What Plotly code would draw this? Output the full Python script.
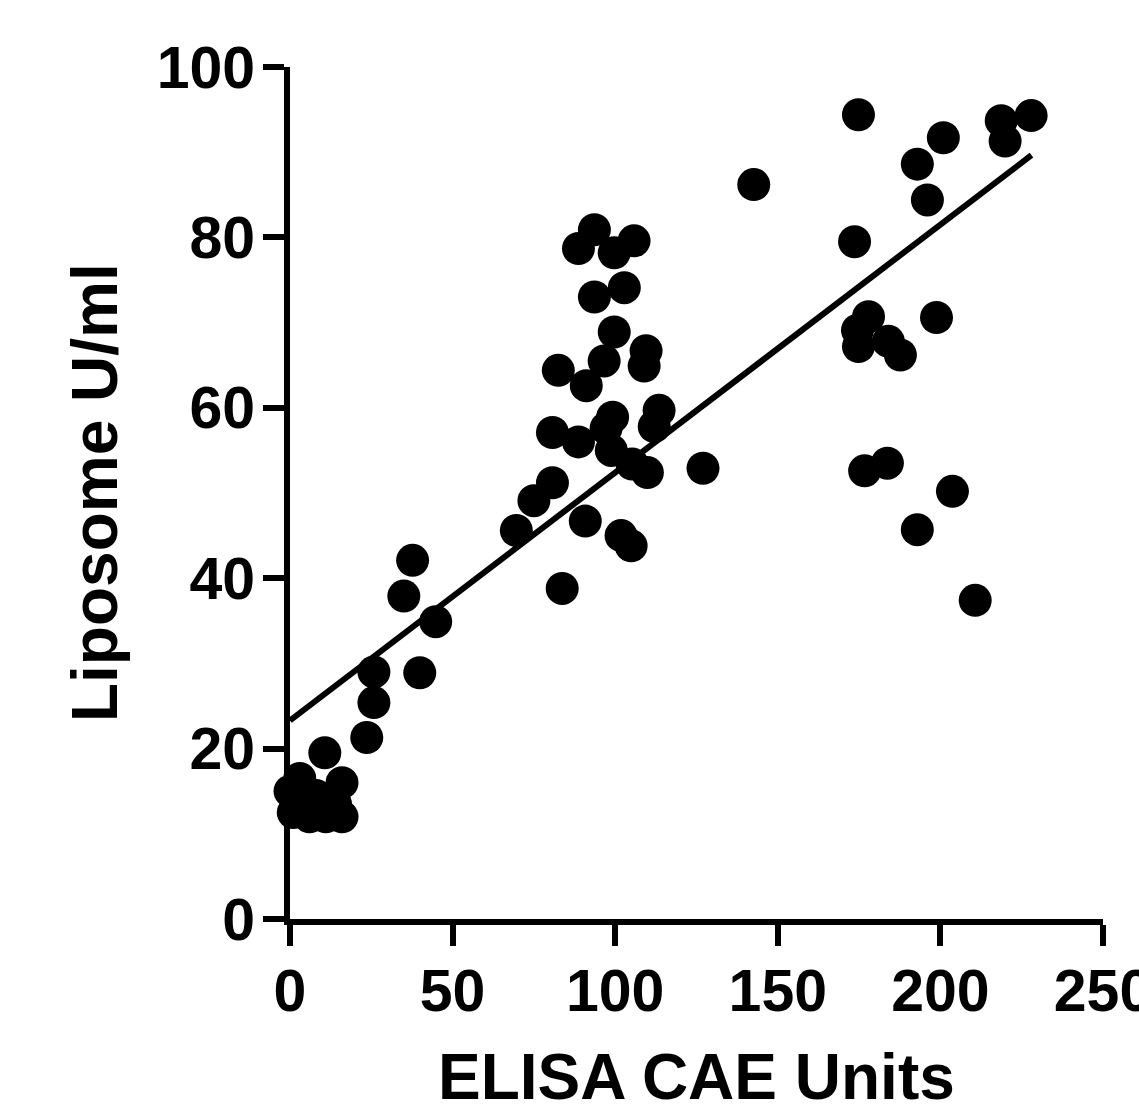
import plotly.graph_objects as go

# ELISA CAE Units (x) and Liposome U/ml (y)
elisa_units = [
    0, 1, 3, 4.5, 6, 8, 11, 10.7, 14, 16, 16,
    23.6, 25.8, 25.8, 39.9, 35.0, 37.7, 44.8,
    69.6, 75.0, 80.7, 83.7, 90.8, 101.8, 104.9,
    80.7, 88.7, 97.2, 99.2, 98.8, 105.2, 109.9, 112.0, 113.5,
    82.5, 91.1, 96.6, 99.7, 109.5, 108.9,
    93.6, 102.8, 88.7, 93.6, 99.7, 105.8,
    127.0, 142.6,
    174.8, 200.9, 192.9, 196.0, 173.6, 218.7, 227.9, 219.9,
    177.9, 174.5, 174.8, 184.0, 187.7, 198.8,
    176.7, 183.7, 203.7, 192.9, 210.7,
]
liposome_u_ml = [
    15.0, 12.5, 16.5, 13.5, 12.0, 14.5, 12.0, 19.5, 13.5, 12.0, 16.0,
    21.3, 25.4, 29.0, 28.9, 37.9, 42.1, 34.9,
    45.6, 49.1, 51.2, 38.8, 46.7, 45.0, 43.8,
    57.1, 56.0, 57.6, 58.9, 55.0, 53.4, 52.4, 57.8, 59.7,
    64.4, 62.6, 65.5, 68.9, 66.7, 64.9,
    73.0, 74.1, 78.7, 80.9, 78.2, 79.6,
    52.9, 86.2,
    94.4, 91.7, 88.6, 84.4, 79.5, 93.7, 94.3, 91.3,
    70.7, 69.1, 67.2, 67.8, 66.2, 70.6,
    52.6, 53.5, 50.2, 45.7, 37.4,
]

# Linear fit line
fit_intercept = 23.3
fit_slope = 0.291
fit_x = [0, 228]
fit_y = [fit_intercept + fit_slope * v for v in fit_x]

x_ticks = [0, 50, 100, 150, 200, 250]
y_ticks = [0, 20, 40, 60, 80, 100]

x_title = "ELISA CAE Units"
y_title = "Liposome U/ml"

FONT = "Liberation Sans, Arial, sans-serif"

fig = go.Figure()
fig.add_trace(go.Scatter(
    x=fit_x, y=fit_y, mode="lines",
    line=dict(color="black", width=6),
    showlegend=False, hoverinfo="skip", cliponaxis=False,
))
fig.add_trace(go.Scatter(
    x=elisa_units, y=liposome_u_ml, mode="markers",
    marker=dict(color="black", size=33, line=dict(width=0)),
    showlegend=False, cliponaxis=False,
))

axis_common = dict(
    showgrid=False, zeroline=False, automargin=False,
    showline=True, linecolor="black", linewidth=6,
    ticks="outside", ticklen=21, tickwidth=6, tickcolor="black",
    ticklabeloverflow="allow",
    tickfont=dict(family=FONT, size=59, color="black", weight="bold"),
)

fig.update_layout(
    width=1139, height=1109,
    margin=dict(l=290, r=36, t=67, b=190),
    paper_bgcolor="white", plot_bgcolor="white",
    font=dict(family=FONT, color="black"),
    xaxis=dict(range=[0, 250], tickvals=x_ticks, ticktext=[str(v) for v in x_ticks],
               ticklabelstandoff=-6, **axis_common),
    yaxis=dict(range=[0, 100], tickvals=y_ticks, ticktext=[str(v) for v in y_ticks],
               ticklabelstandoff=-4, **axis_common),
    annotations=[
        dict(text="<b>" + x_title + "</b>", xref="paper", yref="paper", x=0.5, y=0,
             xanchor="center", yanchor="middle", yshift=-158, showarrow=False,
             font=dict(family=FONT, size=64, color="black")),
        dict(text="<b>" + y_title + "</b>", xref="paper", yref="paper", x=0, y=0.5,
             xanchor="center", yanchor="middle", xshift=-195, textangle=-90, showarrow=False,
             font=dict(family=FONT, size=64, color="black")),
    ],
)

fig.write_html("out.html")
